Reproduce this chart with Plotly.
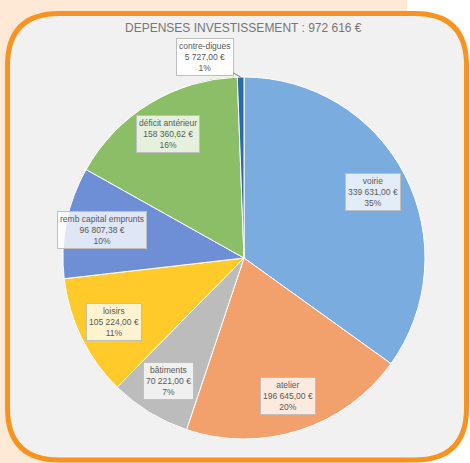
import math
import plotly.graph_objects as go

W, H = 470, 463

categories = ["voirie", "atelier", "bâtiments", "loisirs", "remb capital emprunts",
              "déficit antérieur", "contre-digues"]
values = [339631.00, 196645.00, 70221.00, 105224.00, 96807.38, 158360.62, 5727.00]
colors = ["#7aace0", "#f2a06c", "#bcbcbc", "#ffca2a", "#6e8ed6", "#8bbe66", "#2a6aa8"]
title_text = "DEPENSES INVESTISSEMENT : 972 616 €"


def fr_money(v):
    s = f"{v:,.2f}"
    s = s.replace(",", " ").replace(".", ",")
    return s + " €"


total = sum(values)

# pie geometry (pixels)
pcx, pcy, R = 244, 258, 181
dom_x = [(pcx - R) / W, (pcx + R) / W]
dom_y = [1 - (pcy + R) / H, 1 - (pcy - R) / H]

fig = go.Figure()
fig.add_trace(go.Pie(
    labels=categories, values=values, sort=False, direction="clockwise",
    rotation=0, marker=dict(colors=colors, line=dict(color="white", width=1)),
    textinfo="none", hoverinfo="label+value+percent", showlegend=False,
    domain=dict(x=dom_x, y=dom_y),
))

cx = (dom_x[0] + dom_x[1]) / 2
cy = (dom_y[0] + dom_y[1]) / 2
rx = R / W
ry = R / H

lab_font = dict(size=8.5, color="#595959", family="Liberation Sans")
annotations = []
cum = 0.0
for cat, v in zip(categories, values):
    frac = v / total
    mid = (cum + frac / 2) * 2 * math.pi
    cum += frac
    txt = f"{cat}<br>{fr_money(v)}<br>{round(frac * 100)}%"
    if frac < 0.02:
        ax = cx + rx * math.sin(mid)
        ay = cy + ry * math.cos(mid)
        annotations.append(dict(
            x=ax, y=ay, xref="paper", yref="paper", text=txt,
            showarrow=True, arrowhead=0, arrowwidth=1, arrowcolor="#7f7f7f",
            ax=-36, ay=-20, font=lab_font,
            bgcolor="rgba(255,255,255,0.9)", bordercolor="#bfbfbf", borderwidth=1,
            borderpad=2,
        ))
    else:
        lx = cx + 0.8 * rx * math.sin(mid)
        ly = cy + 0.8 * ry * math.cos(mid)
        annotations.append(dict(
            x=lx, y=ly, xref="paper", yref="paper", text=txt, showarrow=False,
            font=lab_font,
            bgcolor="rgba(255,255,255,0.78)", bordercolor="#bfbfbf", borderwidth=1,
            borderpad=2, xanchor="center", yanchor="middle",
        ))

annotations.append(dict(
    x=243 / W, y=1 - 28 / H, xref="paper", yref="paper", text=title_text,
    showarrow=False, font=dict(size=12, color="#767676", family="Liberation Sans"),
    xanchor="center", yanchor="middle",
))


def rounded_rect(x0, y0, x1, y1, r):
    # pixel coords -> paper coords path
    def p(x, y):
        return f"{x / W},{1 - y / H}"
    return (f"M {p(x0 + r, y0)} L {p(x1 - r, y0)} Q {p(x1, y0)} {p(x1, y0 + r)} "
            f"L {p(x1, y1 - r)} Q {p(x1, y1)} {p(x1 - r, y1)} "
            f"L {p(x0 + r, y1)} Q {p(x0, y1)} {p(x0, y1 - r)} "
            f"L {p(x0, y0 + r)} Q {p(x0, y0)} {p(x0 + r, y0)} Z")


shapes = [
    dict(type="rect", xref="paper", yref="paper", x0=0, x1=407 / W, y0=0, y1=1,
         fillcolor="#fde9d6", line=dict(width=0), layer="below"),
    dict(type="path", xref="paper", yref="paper",
         path=rounded_rect(7.5, 13.5, 466.5, 460, 52),
         fillcolor="#f1f1f1", line=dict(color="#f7931e", width=5), layer="below"),
]

fig.update_layout(
    width=W, height=H, margin=dict(l=0, r=0, t=0, b=0),
    paper_bgcolor="white", plot_bgcolor="white",
    annotations=annotations, shapes=shapes,
)

fig.write_html("out.html")
